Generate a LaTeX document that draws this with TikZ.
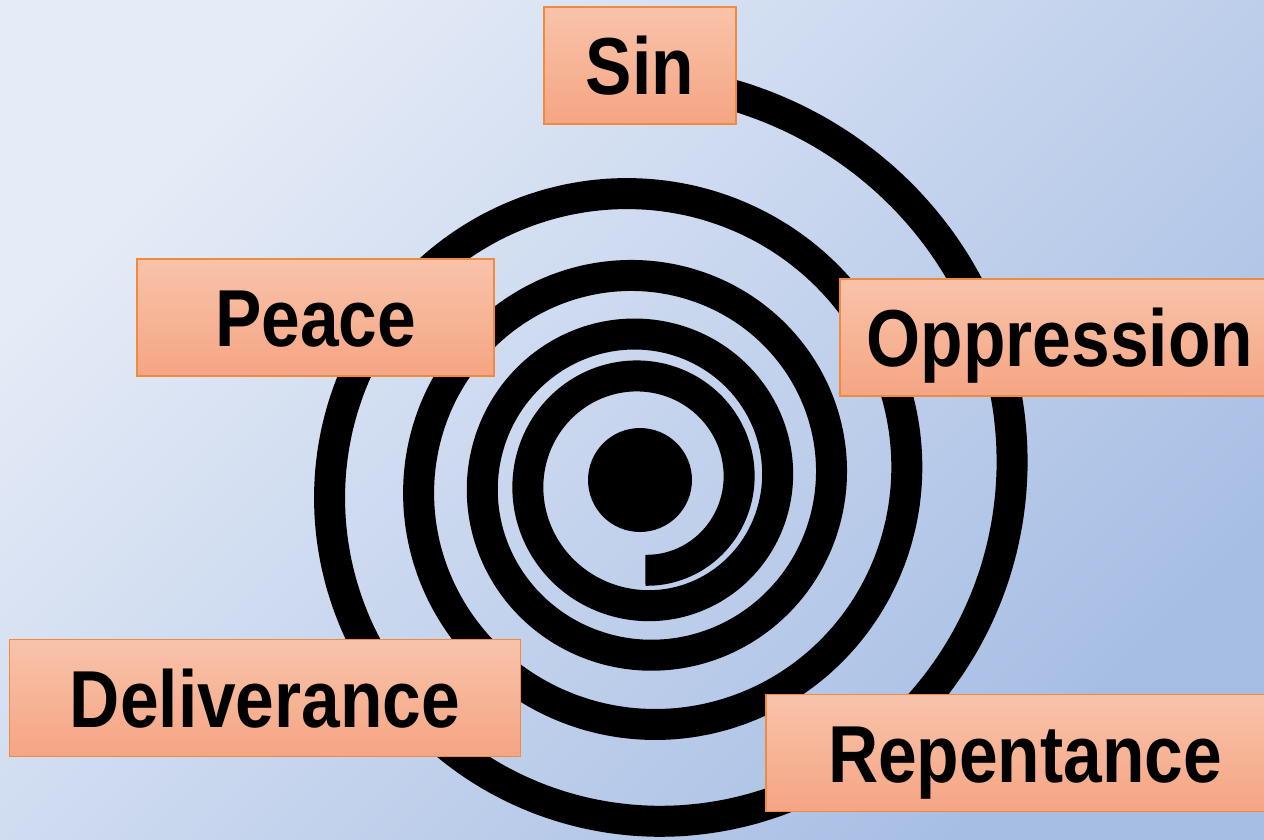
\documentclass[tikz,border=0pt]{standalone}
\usepackage{xcolor}
\usepackage{fontspec}
\newfontfamily\boxfont{Liberation Sans Bold}[FakeStretch=0.86]
\usetikzlibrary{positioning}
\definecolor{bglight}{HTML}{E6ECF7}
\definecolor{bgdark}{HTML}{A7BEE4}
\definecolor{boxtop}{HTML}{F8C3AA}
\definecolor{boxbottom}{HTML}{F5A583}
\definecolor{boxline}{HTML}{F08A3E}

\begin{document}
\begin{tikzpicture}[x=0.02cm, y=-0.02cm, font=\boxfont\fontsize{46}{50}\selectfont]
  \tikzstyle{box}=[draw=boxline, line width=0.9pt, top color=boxtop, bottom color=boxbottom, minimum height=2.34cm, inner sep=0pt, text height=33pt, text depth=0pt]
  \tikzstyle{coil}=[line width=0.62cm, black]
  \useasboundingbox (0,0) rectangle (1264,839);
  \shade[top color=bglight, bottom color=bgdark, shading angle=45] (0,0) rectangle (1264,839);

  % spiral, from the inside out
  \draw[coil] plot[domain=-88:1540, samples=400, smooth] ({642.3+96.7*exp(0.335*\x/360)*cos(\x)}, {481.2-96.7*exp(0.335*\x/360)*sin(\x)});
  \fill (640,480) circle [radius=1.04cm];

  \node[box, minimum width=3.84cm] (sin) at (640,65.5) {Sin};
  \node[box, minimum width=8.8cm] (oppression) at (1060,337.5) {Oppression};
  \node[box, minimum width=10.36cm] (repentance) at (1025,753) {Repentance};
  \node[box, minimum width=10.22cm] (deliverance) at (265,698) {Deliverance};
  \node[box, minimum width=7.14cm] (peace) at (315.5,317.5) {Peace};
\end{tikzpicture}
\end{document}
